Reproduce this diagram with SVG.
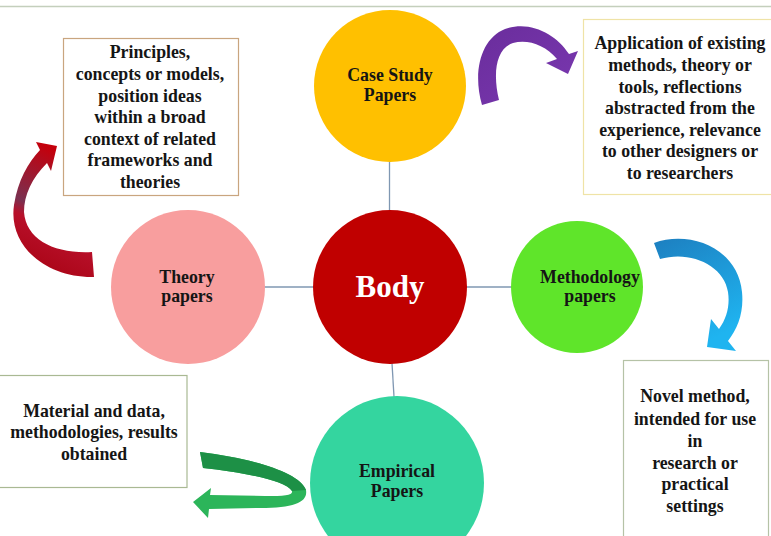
<svg xmlns="http://www.w3.org/2000/svg" width="771" height="536" viewBox="0 0 771 536">
<defs>
<style>
.t{font-family:"Liberation Serif","Times New Roman",serif;font-weight:bold;font-size:17.8px;fill:#151515;text-anchor:middle}
.c{font-family:"Liberation Serif","Times New Roman",serif;font-weight:bold;font-size:17.8px;fill:#151515;text-anchor:middle}
.box{fill:#ffffff;stroke-width:1.2}
.link{stroke:#7f97b2;stroke-width:1.3;fill:none}
</style>
<linearGradient id="gRed" x1="0" y1="1" x2="0.3" y2="0">
<stop offset="0" stop-color="#a4000e"/>
<stop offset="0.45" stop-color="#b8102a"/>
<stop offset="0.55" stop-color="#7a3050"/>
<stop offset="1" stop-color="#c4000c"/>
</linearGradient>
<linearGradient id="gPur" x1="0" y1="0" x2="1" y2="1">
<stop offset="0" stop-color="#6a2d9c"/>
<stop offset="1" stop-color="#7a38b0"/>
</linearGradient>
<linearGradient id="gBlue" x1="0" y1="0" x2="0.4" y2="1">
<stop offset="0" stop-color="#1d7fc0"/>
<stop offset="1" stop-color="#1fb4f0"/>
</linearGradient>
</defs>
<rect width="771" height="536" fill="#ffffff"/>
<line x1="0" y1="6.5" x2="771" y2="6.5" stroke="#c4cfbc" stroke-width="1.5"/>

<g id="connectors">
<line class="link" x1="389.5" y1="160" x2="389.5" y2="212"/>
<line class="link" x1="264" y1="287" x2="314" y2="287"/>
<line class="link" x1="466" y1="287" x2="512" y2="287"/>
<line class="link" x1="392" y1="363" x2="394" y2="397"/>
</g>

<g id="case-study">
<circle cx="390" cy="86" r="76" fill="#ffc000"/>
<text class="c" x="390" y="81">Case Study</text>
<text class="c" x="390" y="101">Papers</text>
</g>

<g id="body">
<circle cx="390" cy="287" r="77" fill="#c00000"/>
<text x="390" y="297" text-anchor="middle" font-family="Liberation Serif,Times New Roman,serif" font-weight="bold" font-size="31" fill="#ffffff">Body</text>
</g>

<g id="theory">
<circle cx="188" cy="287" r="77" fill="#f89e9e"/>
<text class="c" x="187" y="283">Theory</text>
<text class="c" x="187" y="302">papers</text>
</g>

<g id="methodology">
<circle cx="577" cy="287" r="66" fill="#5fe52a"/>
<text class="c" x="590" y="283">Methodology</text>
<text class="c" x="590" y="302">papers</text>
</g>

<g id="empirical">
<circle cx="397" cy="483" r="87" fill="#34d59f"/>
<text class="c" x="397" y="477">Empirical</text>
<text class="c" x="397" y="497">Papers</text>
</g>

<g id="theory-box">
<rect class="box" x="63.5" y="38.5" width="175" height="157" stroke="#c9a57f"/>
<text class="t" x="150" y="58">Principles,</text>
<text class="t" x="150" y="80">concepts or models,</text>
<text class="t" x="150" y="102">position ideas</text>
<text class="t" x="150" y="123">within a broad</text>
<text class="t" x="150" y="145">context of related</text>
<text class="t" x="150" y="166">frameworks and</text>
<text class="t" x="150" y="188">theories</text>
</g>

<g id="case-study-box">
<rect class="box" x="583.5" y="19.5" width="200" height="175" stroke="#efe3a6"/>
<text class="t" x="680" y="49">Application of existing</text>
<text class="t" x="680" y="71">methods, theory or</text>
<text class="t" x="680" y="93">tools, reflections</text>
<text class="t" x="680" y="114">abstracted from the</text>
<text class="t" x="680" y="136">experience, relevance</text>
<text class="t" x="680" y="157">to other designers or</text>
<text class="t" x="680" y="179">to researchers</text>
</g>

<g id="methodology-box">
<rect class="box" x="623.5" y="360.5" width="145" height="190" stroke="#b5c2a6"/>
<text class="t" x="695" y="402">Novel method,</text>
<text class="t" x="695" y="425">intended for use</text>
<text class="t" x="695" y="447">in</text>
<text class="t" x="695" y="469">research or</text>
<text class="t" x="695" y="490">practical</text>
<text class="t" x="695" y="512">settings</text>
</g>

<g id="empirical-box">
<rect class="box" x="-1" y="375.5" width="188" height="112" stroke="#a9b993"/>
<text class="t" x="94" y="417">Material and data,</text>
<text class="t" x="94" y="438">methodologies, results</text>
<text class="t" x="94" y="460">obtained</text>
</g>

<g id="arrows">
<path d="M 92,252 L 94,277 C 45,278 8,245 14,205 C 18,180 28,163 40,150 L 36,142 L 57,146 L 51,171 L 47,163 C 32,178 24,195 24,212 C 26,240 55,254 92,252 Z" fill="url(#gRed)"/>
<path d="M 482,105 C 472,70 482,38 505,29 C 530,20 556,34 569,54 L 578,51 L 568,74 L 546,63 L 557,59 C 545,45 528,39 513,43 C 495,49 493,75 499,100 Z" fill="url(#gPur)"/>
<path d="M 654,243 C 690,230 738,248 742,292 C 744,312 738,328 728,341 L 736,351 L 707,347 L 711,319 L 719,329 C 727,318 730,305 728,292 C 724,265 690,250 660,259 Z" fill="url(#gBlue)"/>
<path d="M 200,452 C 250,458 300,472 306,490 C 308,502 295,508 260,508 L 209,509 L 208,518 L 193,502 L 211,488 L 210,495 L 265,496 C 285,496 293,495 292,491 C 285,480 240,472 203,468 Z" fill="#2cb55a"/>
<path d="M 200,452 C 250,458 300,472 306,490 L 292,491 C 285,480 240,472 203,468 Z" fill="#1d9046"/>
</g>
</svg>
